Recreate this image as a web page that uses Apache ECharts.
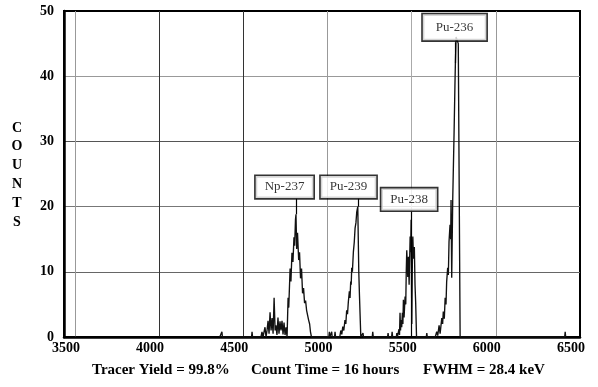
<!DOCTYPE html>
<html><head><meta charset="utf-8">
<script src="https://cdn.jsdelivr.net/npm/echarts@6/dist/echarts.min.js"></script>
<style>html,body{margin:0;padding:0;background:#fff}#c{width:598px;height:387px}</style>
</head><body><div id="c"></div>
<script>
// spectrum: energy (keV) and counts
const energy = [4360,4370,4373,4376,4549,4552,4555,
  4605,4611,4617,4625,4629,4635,4641,4647,4653,4659,4665,4671,4677,4683,4689,4694,4700,4706,4712,4718,4724,4730,4736,4742,4748,4754,
  4760,4766,4770,4778,4783,4789,4795,4801,4805,4810,4813,4817,4822,4829,4834,4840,4846,4852,4858,4864,4870,4876,4882,4888,4894,4899,4905,
  5008,5011,5014,5022,5025,5028,5042,5045,5048,
  5073,5079,5085,5091,5097,5104,5109,5114,5119,5124,5130,5134,5138,5141,5144,5148,5154,5159,5164,5169,5174,5180,5186,5190,5198,
  5209,5211,5214,5266,5269,5272,5357,5360,5363,5381,5384,5387,5409,5412,5415,
  5420,5425,5428,5431,5434,5437,5441,5445,5448,5451,5455,5461,5465,5468,5471,5477,5481,5485,5491,5494,5497,5501,5505,5507,5511,5516,5520,5524,5529,
  5587,5590,5593,
  5640,5649,5655,5663,5669,5679,5684,5688,5694,5699,5704,5708,5714,5718,5722,5728,5732,5734,5738,5744,5752,5757,5760,5764,5772,5777,5788,
  6409,6412,6415];
const counts = [0,0,0.8,0,0,0.8,0,
  0,0.8,0,0,1.5,0,1,2.5,0.5,3.8,1,2.9,0.5,6,1,1.8,0.3,3,0.5,2.4,1,2.5,0.4,2.2,0.3,1.5,
  0,6,4.5,10.5,8.5,12.9,11.5,15.3,14,18,18.8,13.5,16,11.8,13,9,10.5,6.7,7.5,5.2,5.6,4.1,4.4,2.6,2,0.8,0,
  0,0.8,0,0,0.8,0,0,0.8,0,
  0,1,0.4,1.6,1,2.6,2,4.1,3.5,5.4,7,6,8.5,8,10.6,10,13.1,14.5,16.7,17.5,19.2,20,10,6.4,0,
  0,0.6,0,0,0.8,0,0,0.6,0,0,0.8,0,0,0.6,0,
  0,1.2,0.3,3.7,1,2.6,1.5,3.7,2,5.7,3,6.2,5,10,13.3,9.2,12.3,8,15.4,13,18,2,14,15.4,12,13.8,8,5.2,0,
  0,0.6,0,
  0,0.8,0.2,1.8,0.5,2.9,2,3.9,2.8,6,5,8.5,10.6,9.5,14.6,17.2,15,21,9.1,21,31.3,38.4,42.2,46,46,45,0,
  0,0.8,0];

const xTicks = [3500,4000,4500,5000,5500,6000,6500];
const xMin = 3435, xMax = 6500;
const yMin = 0, yMax = 50, yStep = 10;

const peakLabels = ['Np-237','Pu-239','Pu-238','Pu-236'];
const labelEnergy = [4745,5125,5485,5755];
const labelCount = [23.0,23.0,21.1,47.5];
const leaderEnergy = [4813,5180,5497,5757];
const leaderTop = [21.2,21.2,19.2,45.2];
const leaderBottom = [18.8,20,0,42];

const yTitle = 'COUNTS';
const footer = ['Tracer Yield = 99.8%','Count Time = 16 hours','FWHM = 28.4 keV'];

const serif = '"Liberation Serif","Times New Roman",serif';
const chart = echarts.init(document.getElementById('c'), null, {renderer:'canvas'});

const spectrum = energy.map((e,i)=>[e,counts[i]]);
const boxes = peakLabels.map((n,i)=>{
  const big = i===3;
  return {name:n, value:[labelEnergy[i],labelCount[i]],
    label: big ? {padding:[7,13,6,13]} : {}};
});
const leaders = peakLabels.map((n,i)=>[{coord:[leaderEnergy[i],leaderTop[i]]},{coord:[leaderEnergy[i],leaderBottom[i]]}]);

chart.setOption({
  animation:false,
  backgroundColor:'#fff',
  grid:{left:64,right:18,top:11,bottom:50,show:true,borderColor:'#000',borderWidth:2,backgroundColor:'transparent'},
  xAxis:{type:'value',min:xMin,max:xMax,
    axisLine:{show:true,lineStyle:{color:'#000',width:2.5}},
    axisTick:{show:false,customValues:xTicks},
    axisLabel:{customValues:xTicks,formatter:v=>String(v),color:'#000',fontFamily:serif,fontWeight:'bold',fontSize:14,margin:4,padding:[0,18,0,0]},
    splitLine:{show:true,customValues:xTicks,lineStyle:{color:['#999','#333','#333','#999','#aaa','#999','#000'],width:1}}
  },
  yAxis:{type:'value',min:yMin,max:yMax,interval:yStep,
    axisLine:{show:true,lineStyle:{color:'#000',width:2.5}},
    axisTick:{show:false},
    axisLabel:{formatter:v=>String(v),color:'#000',fontFamily:serif,fontWeight:'bold',fontSize:14,margin:10},
    splitLine:{show:true,lineStyle:{color:['#000','#666','#777','#555','#999','#000'],width:1}}
  },
  series:[
    {type:'line',data:spectrum,symbol:'none',lineStyle:{color:'#111',width:1.35},z:3},
    {type:'scatter',data:boxes,symbolSize:0,z:6,
      label:{show:true,position:'inside',formatter:p=>p.name,color:'#000',fontFamily:serif,fontSize:13,
        backgroundColor:'#fff',borderColor:'#000',borderWidth:1.6,padding:[5,9,4,9]},
      markLine:{silent:true,symbol:'none',z:4,label:{show:false},lineStyle:{color:'#000',width:1.2,type:'solid'},data:leaders}
    }
  ],
  graphic:[
    {type:'text',x:17,y:175,style:{text:yTitle.split('').join('\n'),fill:'#000',font:'bold 14px '+serif,align:'center',verticalAlign:'middle',lineHeight:18.8}},
    {type:'text',x:92,y:370,style:{text:footer[0],fill:'#000',font:'bold 15px '+serif,align:'left',verticalAlign:'middle'}},
    {type:'text',x:251,y:370,style:{text:footer[1],fill:'#000',font:'bold 15px '+serif,align:'left',verticalAlign:'middle'}},
    {type:'text',x:423,y:370,style:{text:footer[2],fill:'#000',font:'bold 15px '+serif,align:'left',verticalAlign:'middle'}}
  ]
});
</script></body></html>
